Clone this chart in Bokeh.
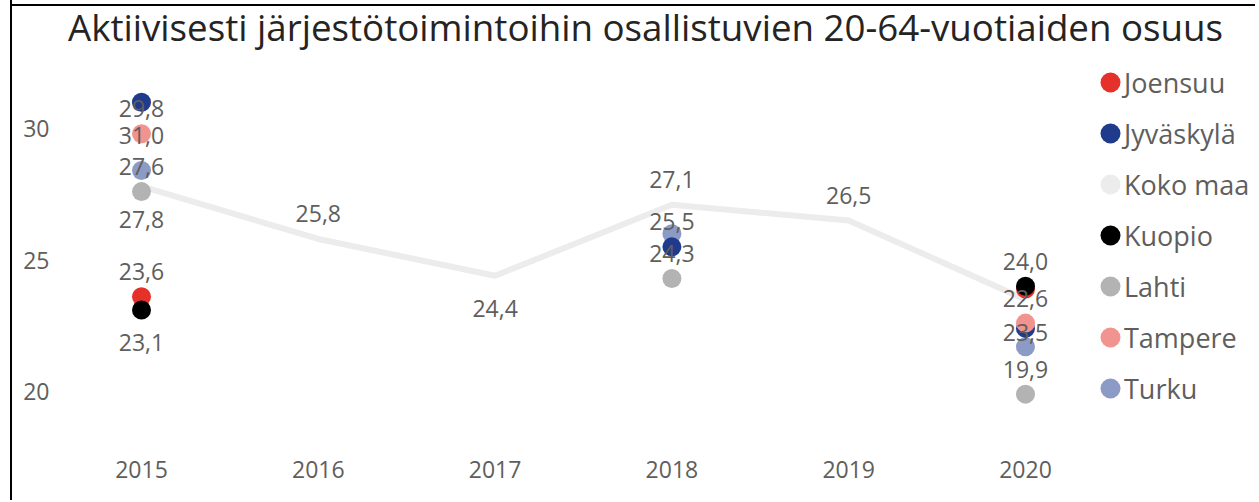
import math
from bokeh.plotting import figure
from bokeh.models import (ColumnDataSource, Range1d, FixedTicker, Legend,
                          LegendItem, Label)
from bokeh.embed import file_html
from bokeh.resources import INLINE
from bokeh.core.properties import value

nan = float("nan")

# ---------------- data ----------------
title_text = "Aktiivisesti järjestötoimintoihin osallistuvien 20-64-vuotiaiden osuus"
years = [2015, 2016, 2017, 2018, 2019, 2020]
y_ticks = [20, 25, 30]

joensuu = [23.6, nan, nan, nan, nan, 23.9]
jyvaskyla = [31.0, nan, nan, 25.5, nan, 22.4]
koko_maa = [27.8, 25.8, 24.4, 27.1, 26.5, 23.5]
kuopio = [23.1, nan, nan, nan, nan, 24.0]
lahti = [27.6, nan, nan, 24.3, nan, 19.9]
tampere = [29.8, nan, nan, nan, nan, 22.6]
turku = [28.4, nan, nan, 26.0, nan, 21.7]

# data-label placement per point ("above", "below", "" = hidden)
joensuu_lbl = ["above", "", "", "", "", ""]
jyvaskyla_lbl = ["below", "", "", "above", "", ""]
koko_maa_lbl = ["below", "above", "below", "above", "above", "below"]
kuopio_lbl = ["below", "", "", "", "", "above"]
lahti_lbl = ["above", "", "", "above", "", "above"]
tampere_lbl = ["above", "", "", "", "", "above"]
turku_lbl = ["", "", "", "", "", ""]

series = [
    ("Joensuu", joensuu, joensuu_lbl, "#E6312B"),
    ("Jyväskylä", jyvaskyla, jyvaskyla_lbl, "#203A8C"),
    ("Koko maa", koko_maa, koko_maa_lbl, "#ECECEC"),
    ("Kuopio", kuopio, kuopio_lbl, "#000000"),
    ("Lahti", lahti, lahti_lbl, "#B3B3B3"),
    ("Tampere", tampere, tampere_lbl, "#F1948F"),
    ("Turku", turku, turku_lbl, "#8C9AC6"),
]
line_series = "Koko maa"
marker_draw_order = ["Turku", "Joensuu", "Jyväskylä", "Kuopio", "Lahti", "Tampere"]

# ---------------- figure ----------------
W, H = 1245, 500
PX_PER_YEAR = 176.8
PX_PER_UNIT = 26.3
frame_left, frame_bottom_pad = 48, 60
frame_w = W - frame_left
frame_h = H - frame_bottom_pad
x_start = 2015 - 81 / PX_PER_YEAR
y_top = 30 + 128 / PX_PER_UNIT

TEXT_COL = "#605E5C"
FONT = "Open Sans"

p = figure(width=W, height=H, output_backend="svg", toolbar_location=None,
           x_range=Range1d(x_start, x_start + frame_w / PX_PER_YEAR),
           y_range=Range1d(y_top - frame_h / PX_PER_UNIT, y_top),
           min_border_left=frame_left, min_border_right=0,
           min_border_top=0, min_border_bottom=frame_bottom_pad,
           background_fill_color=None, border_fill_color=None)
# frame of the visual: left border plus a top rule drawn as the element background
p.styles = {
    "border-left": "2px solid black",
    "margin-left": "10px",
    "background": "linear-gradient(to bottom, white 0px, white 4px, black 4px, "
                  "black 6px, white 6px, white 100%)",
}
p.outline_line_color = None
p.grid.visible = False

for ax in (p.xaxis[0], p.yaxis[0]):
    ax.axis_line_color = None
    ax.major_tick_line_color = None
    ax.minor_tick_line_color = None
    ax.major_tick_out = 0
    ax.major_tick_in = 0
    ax.major_label_text_font = FONT
    ax.major_label_text_font_size = "23px"
    ax.major_label_text_color = TEXT_COL
p.xaxis.ticker = FixedTicker(ticks=years)
p.yaxis.ticker = FixedTicker(ticks=y_ticks)
p.xaxis.major_label_standoff = 20
p.yaxis.major_label_standoff = 11

data = {name: (vals, lbls, col) for name, vals, lbls, col in series}

def valid(vals):
    xs = [y for y, v in zip(years, vals) if not math.isnan(v)]
    ys = [v for v in vals if not math.isnan(v)]
    return xs, ys

# line series (drawn under markers)
vals, lbls, col = data[line_series]
p.line(years, vals, line_color=col, line_width=6)

for name in marker_draw_order:
    vals, lbls, col = data[name]
    xs, ys = valid(vals)
    p.scatter(xs, ys, size=19, fill_color=col, line_color=None)

# legend-only renderers (hidden): coloured swatches and invisible ones for the labels
swatch_r, text_r = {}, {}
for name, vals, lbls, col in series:
    xs, ys = valid(vals)
    swatch_r[name] = p.scatter(xs, ys, size=19, fill_color=col, line_color=None,
                               visible=False)
    text_r[name] = p.scatter(xs, ys, size=1, fill_alpha=0, line_alpha=0,
                             visible=False)

# data labels
OFFS = {"above": -25, "below": 33}
lx, ly, lt, lo = [], [], [], []
for name, vals, lbls, col in series:
    for yr, v, pos in zip(years, vals, lbls):
        if pos and not math.isnan(v):
            lx.append(yr)
            ly.append(v)
            lt.append(f"{v:.1f}".replace(".", ","))
            lo.append(OFFS[pos])
src = ColumnDataSource(dict(x=lx, y=ly, t=lt, o=lo))
p.text(x="x", y="y", text="t", y_offset="o", source=src,
       text_font=value(FONT), text_font_size="23px", text_color=TEXT_COL,
       text_align="center", text_baseline="middle")

# title
p.add_layout(Label(x=585, y=frame_h - 26, x_units="screen", y_units="screen",
                   text=title_text, text_font=FONT, text_font_size="36.7px",
                   text_color="#252423", text_align="center",
                   text_baseline="alphabetic"))

# legend: swatches and labels as two aligned legends
common = dict(orientation="vertical", spacing=1, padding=0, margin=0,
              glyph_height=50, background_fill_alpha=0, border_line_color=None,
              label_text_font=FONT, label_text_color=TEXT_COL)
legend_swatches = Legend(
    items=[LegendItem(label=" ", renderers=[swatch_r[n]]) for n, *_ in series],
    location=(1025, 27), glyph_width=50, label_standoff=0,
    label_text_font_size="2px", **common)
legend_labels = Legend(
    items=[LegendItem(label=n, renderers=[text_r[n]]) for n, *_ in series],
    location=(1063, 27), glyph_width=1, label_standoff=0,
    label_text_font_size="27px", **common)
p.add_layout(legend_swatches)
p.add_layout(legend_labels)

open("out.html", "w").write(file_html(p, INLINE))
